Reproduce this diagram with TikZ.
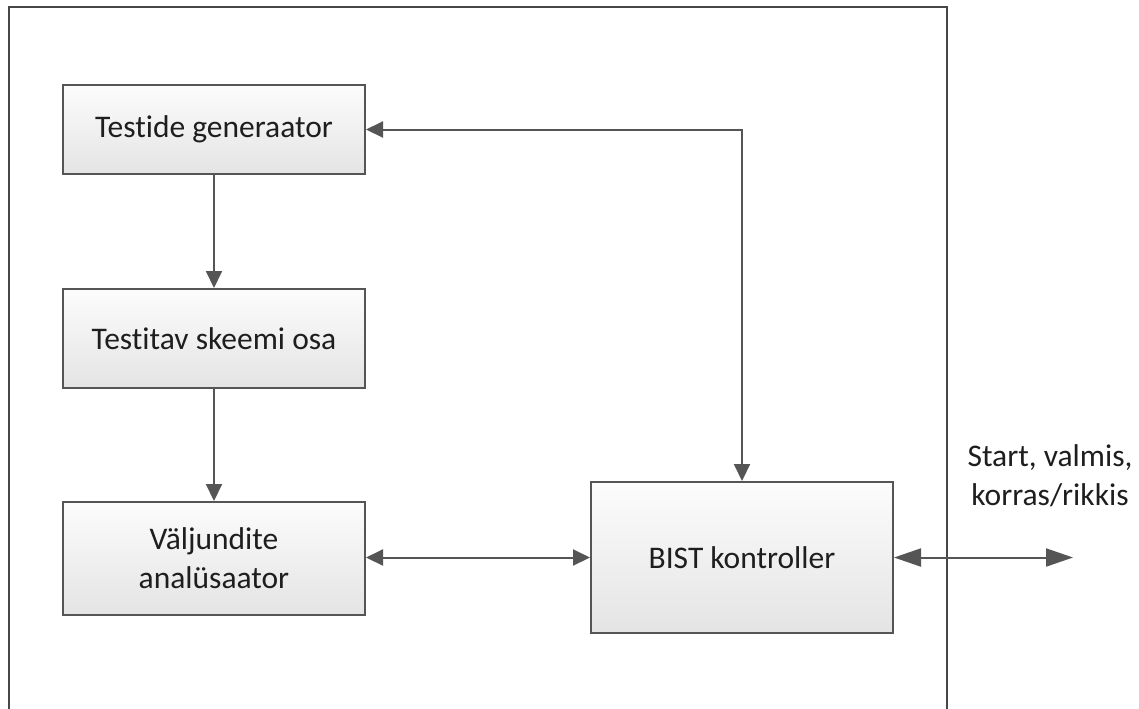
\documentclass[tikz,border=0pt]{standalone}
\usepackage{fontspec}
\setmainfont{Carlito}[Ligatures={NoCommon}]
\usetikzlibrary{arrows.meta}

\definecolor{linegray}{HTML}{555555}
\definecolor{framegray}{HTML}{474747}
\definecolor{textgray}{HTML}{1E1E1E}
\definecolor{boxtop}{HTML}{FCFCFC}
\definecolor{boxbottom}{HTML}{E4E4E4}

\tikzset{
  block/.style={draw=linegray, line width=1pt, top color=boxtop, bottom color=boxbottom,
    minimum width=151pt, inner sep=0pt, align=center, text=textgray,
    font=\fontsize{15.75}{19.5}\selectfont},
  link/.style={draw=linegray, line width=1pt,
    arrows={-Triangle[length=8.5pt,width=8pt]}},
  duplex/.style={draw=linegray, line width=1pt,
    arrows={Triangle[length=8.5pt,width=8pt]-Triangle[length=8.5pt,width=8pt]}},
  bus/.style={draw=linegray, line width=1pt,
    arrows={Triangle[length=13.5pt,width=9pt]-Triangle[length=13.5pt,width=9pt]}},
  frame/.style={draw=framegray, line width=1pt},
  note/.style={text=textgray, align=center, inner sep=0pt,
    font=\fontsize{15.75}{19.5}\selectfont}
}

\begin{document}
\begin{tikzpicture}[x=0.5pt, y=-0.5pt]
  % page area
  \clip (0,0) rectangle (1139,708);
  \fill[white] (0,0) rectangle (1139,708);

  % enclosing chip boundary (open at the bottom edge)
  \draw[frame] (9,720) -- (9,7) -- (947,7) -- (947,720);

  % functional blocks
  \node[block, minimum height=44.5pt] (tg)   at (214,129.5) {Testide generaator};
  \node[block, minimum height=49.5pt] (ts)   at (214,338.5) {Testitav skeemi osa};
  \node[block, minimum height=56.5pt] (va)   at (214,558.5) {Väljundite\\analüsaator};
  \node[block, minimum height=75.5pt] (bist) at (742,557.5) {BIST kontroller};

  % external interface signals
  \node[note] (lbl) at (1050,476) {Start, valmis,\\korras/rikkis};
  \coordinate (ext) at (1073,557.5);

  % connections
  \draw[link] (tg.south) -- (ts.north);
  \draw[link] (ts.south) -- (va.north);
  \draw[duplex] (tg.east) -| (bist.north);
  \draw[duplex] (va.east |- bist.west) -- (bist.west);
  \draw[bus] (bist.east) -- (ext);
\end{tikzpicture}
\end{document}
